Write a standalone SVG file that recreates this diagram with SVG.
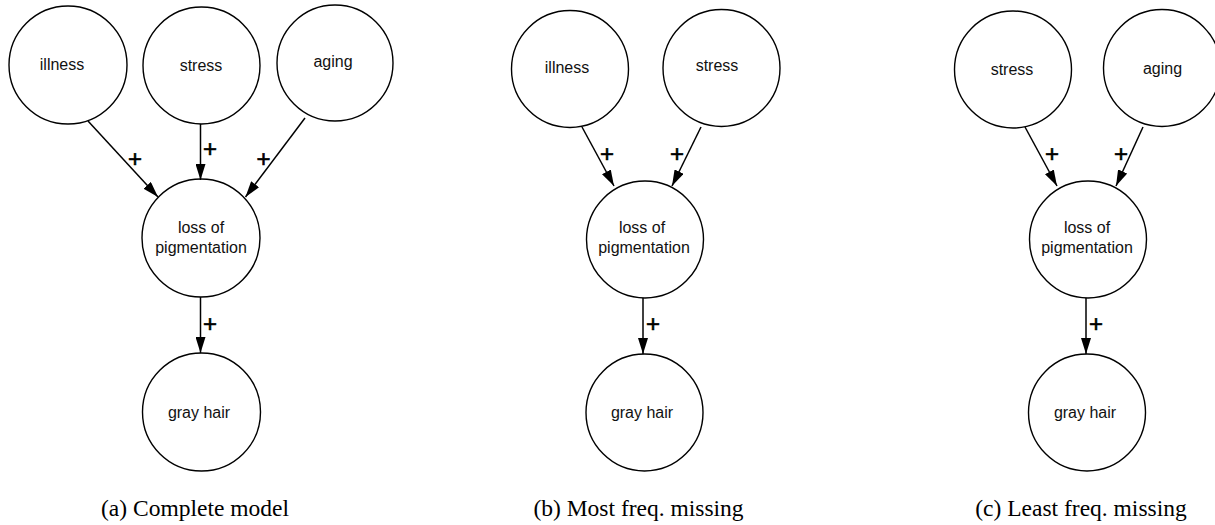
<svg xmlns="http://www.w3.org/2000/svg" width="1215" height="525" viewBox="0 0 1215 525">
<style>
.n circle{fill:#fff;stroke:#000;stroke-width:1.4}
.n text{font-family:"Liberation Sans",Arial,sans-serif;font-size:16px;fill:#111;text-anchor:middle}
.e line{stroke:#000;stroke-width:1.5;marker-end:url(#ah)}
.p{font-family:"Liberation Sans",Arial,sans-serif;font-size:24px;fill:#000;stroke:#000;stroke-width:0.6;text-anchor:middle}
.cap{font-family:"Liberation Serif","Times New Roman",serif;font-size:23.5px;fill:#000;text-anchor:middle}
</style>
<defs>
<marker id="ah" viewBox="0 0 16 10" refX="16" refY="5" markerWidth="16" markerHeight="10" markerUnits="userSpaceOnUse" orient="auto">
<path d="M0,0 L16,5 L0,10 z" fill="#000"/>
</marker>
</defs>
<rect width="1215" height="525" fill="#fff"/>

<g id="a-illness" class="n"><circle cx="68" cy="65" r="59"/><text x="62" y="70">illness</text></g>
<g id="a-stress" class="n"><circle cx="201.5" cy="65.5" r="58.5"/><text x="201" y="71">stress</text></g>
<g id="a-aging" class="n"><circle cx="335" cy="63" r="58"/><text x="333" y="67">aging</text></g>
<g id="a-loss" class="n"><circle cx="201" cy="238" r="59"/><text x="201" y="233">loss of</text><text x="201" y="253">pigmentation</text></g>
<g id="a-gray" class="n"><circle cx="201.5" cy="412" r="59"/><text x="199" y="418">gray hair</text></g>

<g id="b-illness" class="n"><circle cx="570" cy="69" r="58.5"/><text x="567" y="73">illness</text></g>
<g id="b-stress" class="n"><circle cx="721.5" cy="68" r="58.5"/><text x="717" y="71">stress</text></g>
<g id="b-loss" class="n"><circle cx="645" cy="239.5" r="58.5"/><text x="642" y="233">loss of</text><text x="644" y="253">pigmentation</text></g>
<g id="b-gray" class="n"><circle cx="644.5" cy="412.5" r="58.5"/><text x="642" y="418">gray hair</text></g>

<g id="c-stress" class="n"><circle cx="1013" cy="69.5" r="58.5"/><text x="1012" y="75">stress</text></g>
<g id="c-aging" class="n"><circle cx="1162" cy="68" r="58.5"/><text x="1162.5" y="74">aging</text></g>
<g id="c-loss" class="n"><circle cx="1088" cy="239.5" r="58.5"/><text x="1087" y="233">loss of</text><text x="1087" y="253">pigmentation</text></g>
<g id="c-gray" class="n"><circle cx="1087" cy="412.5" r="58.5"/><text x="1085" y="418">gray hair</text></g>

<g id="connectors" class="e">
<line x1="88" y1="121" x2="158" y2="197"/>
<line x1="200.5" y1="124" x2="200.5" y2="180"/>
<line x1="305" y1="118" x2="245.5" y2="197"/>
<line x1="200.5" y1="297" x2="200.5" y2="353"/>
<line x1="582" y1="127" x2="614" y2="186"/>
<line x1="701" y1="127" x2="672" y2="186"/>
<line x1="643" y1="298" x2="643" y2="354"/>
<line x1="1025" y1="127" x2="1057" y2="186"/>
<line x1="1143" y1="127" x2="1116" y2="186"/>
<line x1="1086" y1="298" x2="1086" y2="354"/>
</g>

<g id="labels">
<text class="p" x="135" y="167">+</text>
<text class="p" x="210" y="157">+</text>
<text class="p" x="263.5" y="167">+</text>
<text class="p" x="210" y="332">+</text>
<text class="p" x="607" y="162">+</text>
<text class="p" x="677" y="162">+</text>
<text class="p" x="653" y="332">+</text>
<text class="p" x="1052" y="162">+</text>
<text class="p" x="1121" y="162">+</text>
<text class="p" x="1096" y="332">+</text>
</g>

<g id="captions">
<text class="cap" x="195" y="516">(a) Complete model</text>
<text class="cap" x="638.5" y="516">(b) Most freq. missing</text>
<text class="cap" x="1081" y="516">(c) Least freq. missing</text>
</g>
</svg>
